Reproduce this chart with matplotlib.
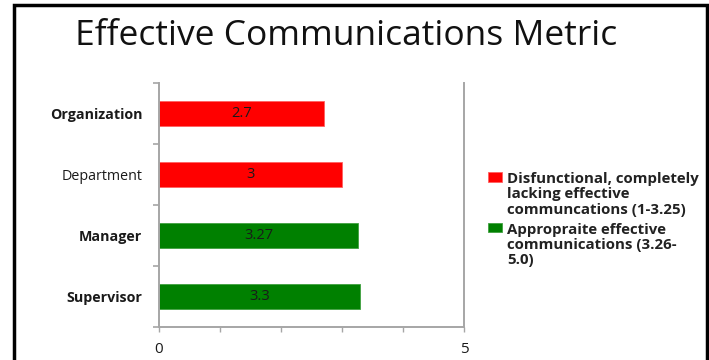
import numpy as np
import matplotlib
matplotlib.use("Agg")
import matplotlib.pyplot as plt
from matplotlib.patches import Rectangle

plt.rcParams['font.family'] = ['Open Sans', 'DejaVu Sans']

# data
categories = ["Organization", "Department", "Manager", "Supervisor"]
values = [2.7, 3.0, 3.27, 3.3]
value_labels = ["2.7", "3", "3.27", "3.3"]
threshold = 3.25
legend_labels = ["Disfunctional, completely\nlacking effective\ncommuncations (1-3.25)",
                 "Appropraite effective\ncommunications (3.26-\n5.0)"]
x_ticks = [0, 1, 2, 3, 4, 5]
x_ticklabels = ["0", "", "", "", "", "5"]
title = "Effective Communications Metric"

red = "#ff0000"
green = "#008000"
axis_grey = "#a6a6a6"

W, H = 709, 360
fig = plt.figure(figsize=(W / 100, H / 100), dpi=100)
fig.patch.set_facecolor("white")

ax = fig.add_axes([159 / W, 1 - 327 / H, (464 - 159) / W, (327 - 83) / H])

vals = np.array(values)
pos = np.arange(len(categories))
low = vals <= threshold
high = ~low

ax.barh(pos[low], vals[low], height=0.4, color=red, edgecolor="#ff6060",
        linewidth=0.6, label=legend_labels[0])
ax.barh(pos[high], vals[high], height=0.4, color=green, edgecolor="#40a040",
        linewidth=0.6, label=legend_labels[1])

for p, v, t in zip(pos, vals, value_labels):
    ax.text(v / 2, p, t, ha="center", va="center", fontsize=10.5, color="#1a1a1a")

ax.set_xlim(0, 5)
ax.set_ylim(len(categories) - 0.5, -0.5)

# category boundary ticks (major) and category names (minor)
ax.set_yticks(np.arange(-0.5, len(categories), 1.0))
ax.set_yticklabels([])
ax.set_yticks(pos, minor=True)
ax.set_yticklabels(categories, minor=True)
ax.tick_params(axis="y", which="major", direction="out", length=4.5,
               color=axis_grey, width=1.2)
ax.tick_params(axis="y", which="minor", length=0, pad=12)
weights = ["bold", "normal", "bold", "bold"]
for lab, w in zip(ax.get_yticklabels(minor=True), weights):
    lab.set_fontweight(w)
    lab.set_fontsize(10.3)
    lab.set_color("#1a1a1a")

ax.set_xticks(x_ticks)
ax.set_xticklabels(x_ticklabels, fontsize=11)
ax.tick_params(axis="x", direction="out", length=3.5, color=axis_grey,
               width=1.0, pad=7, labelcolor="#1a1a1a")

for s in ["left", "bottom", "right"]:
    ax.spines[s].set_color(axis_grey)
    ax.spines[s].set_linewidth(1.4)
ax.spines["top"].set_visible(False)

fig.text(346 / W, 1 - 45 / H, title, ha="center", va="baseline",
         fontsize=25.5, color="#111111")

leg = ax.legend(loc="upper left", bbox_to_anchor=(482 / W, 1 - 166 / H),
                bbox_transform=fig.transFigure, frameon=False,
                handlelength=0.9, handleheight=0.6, handletextpad=0.35,
                labelspacing=0.4, borderaxespad=0,
                prop={"size": 10.8, "weight": "bold"})
for t in leg.get_texts():
    t.set_color("#222222")
    t.set_linespacing(1.12)
# put the colour box next to the first line of each entry
for col in leg._legend_handle_box.get_children():
    for row in col.get_children():
        row.align = "top"

# black slide frame
fig.add_artist(Rectangle((13.5 / W, -0.05), (706.5 - 13.5) / W, 1.05 - 5.5 / H,
                         transform=fig.transFigure, fill=False,
                         edgecolor="black", linewidth=2.5, clip_on=False))

fig.savefig("out.png", dpi=100)
